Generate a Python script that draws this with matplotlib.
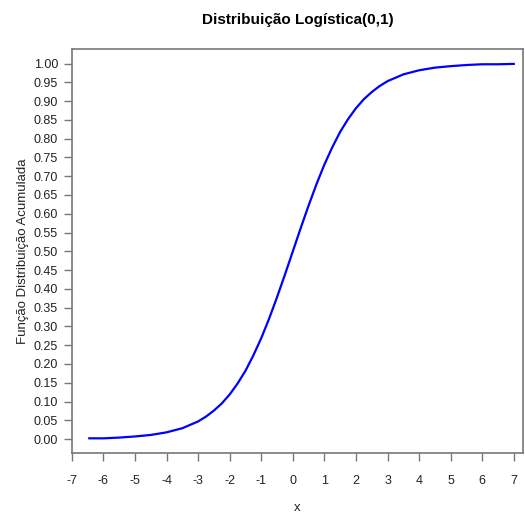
import matplotlib
matplotlib.use("Agg")
import matplotlib.pyplot as plt

plt.rcParams['font.family'] = ['Liberation Sans', 'DejaVu Sans']

# values
x = [-6.45, -6.0, -5.5, -5.0, -4.5, -4.0, -3.5, -3.0, -2.75, -2.5, -2.25, -2.0,
     -1.75, -1.5, -1.25, -1.0, -0.75, -0.5, -0.25, 0.0, 0.25, 0.5, 0.75, 1.0,
     1.25, 1.5, 1.75, 2.0, 2.25, 2.5, 2.75, 3.0, 3.5, 4.0, 4.5, 5.0, 5.5, 6.0,
     6.5, 7.0]
y = [0.002, 0.002, 0.004, 0.007, 0.011, 0.018, 0.029, 0.047, 0.060, 0.076,
     0.095, 0.119, 0.148, 0.182, 0.223, 0.269, 0.321, 0.378, 0.438, 0.500,
     0.562, 0.622, 0.679, 0.731, 0.777, 0.818, 0.852, 0.881, 0.905, 0.924,
     0.940, 0.953, 0.971, 0.982, 0.989, 0.993, 0.996, 0.998, 0.998, 0.999]

xticks = list(range(-7, 8))
yticks = [i / 20 for i in range(21)]

fig = plt.figure(figsize=(5.25, 5.13), dpi=100)
ax = fig.add_axes([0.137, 0.117, 0.859, 0.787])
ax.plot(x, y, color='blue', lw=1.6)

ax.set_xlim(-7, 7.29)
ax.set_ylim(-0.037, 1.038)
ax.set_xticks(xticks)
ax.set_xticklabels([str(t) for t in xticks])
ax.set_yticks(yticks)
ax.set_yticklabels(['%.2f' % t for t in yticks])
ax.tick_params(direction='out', length=6, width=1, color='#777777',
               labelsize=9, labelcolor='#222222', pad=4)
ax.tick_params(axis='x', pad=10)
for s in ax.spines.values():
    s.set_color('#777777')
    s.set_linewidth(1.2)

ax.set_title('Distribuição Logística(0,1)', fontsize=11, fontweight='bold', pad=18)
ax.set_xlabel('x', fontsize=9.5, color='#222222', labelpad=11)
ax.set_ylabel('Função Distribuição Acumulada', fontsize=9.5, color='#222222', labelpad=3)

fig.savefig('out.png', dpi=100)
